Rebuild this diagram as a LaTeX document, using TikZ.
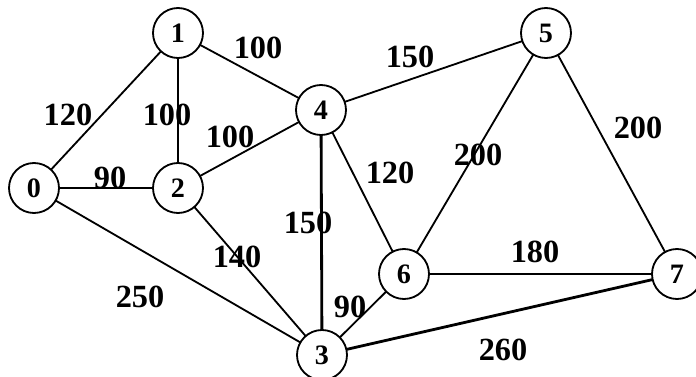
\documentclass[tikz,border=0pt]{standalone}
\usepackage{fontspec}
\setmainfont{Liberation Serif}
\usetikzlibrary{positioning}
\tikzstyle{vertice} = [circle, draw=black, line width=1.3pt, fill=white, minimum size=1.25cm, inner sep=0pt, font=\fontsize{20}{20}\selectfont\bfseries]
\tikzstyle{peso} = [inner sep=0pt, font=\fontsize{23}{23}\selectfont\bfseries]
\tikzstyle{arco} = [line width=1.3pt]
\tikzstyle{arcog} = [line width=2pt]

\begin{document}
\begin{tikzpicture}
	\useasboundingbox (0,0) rectangle (17.4,9.4);
	% archi
	\coordinate (c0) at (0.85,4.7);
	\coordinate (c1) at (4.45,8.575);
	\coordinate (c2) at (4.45,4.7);
	\coordinate (c3) at (8.05,0.525);
	\coordinate (c4) at (8.025,6.65);
	\coordinate (c5) at (13.65,8.575);
	\coordinate (c6) at (10.1,2.55);
	\coordinate (c7) at (16.925,2.55);
	\draw[arco] (c0) -- (c1);
	\draw[arco] (c0) -- (c2);
	\draw[arco] (c0) -- (c3);
	\draw[arcog] (c1) -- (c2);
	\draw[arco] (c1) -- (c4);
	\draw[arco] (c2) -- (c4);
	\draw[arco] (c2) -- (c3);
	\draw[arcog] (c4) -- (c3);
	\draw[arco] (c4) -- (c5);
	\draw[arco] (c4) -- (c6);
	\draw[arco] (c5) -- (c6);
	\draw[arco] (c5) -- (c7);
	\draw[arco] (c6) -- (c7);
	\draw[arco] (c6) -- (c3);
	\draw[arcog] (c3) -- (c7);
	% vertici
	\node (v0) at (c0) [vertice] {0};
	\node (v1) at (c1) [vertice] {1};
	\node (v2) at (c2) [vertice] {2};
	\node (v3) at (c3) [vertice] {3};
	\node (v4) at (c4) [vertice] {4};
	\node (v5) at (c5) [vertice] {5};
	\node (v6) at (c6) [vertice] {6};
	\node (v7) at (c7) [vertice] {7};
	% pesi
	\node (p01) at (1.7,6.525) [peso] {120};
	\node (p02) at (2.75,4.95) [peso] {90};
	\node (p03) at (3.5,1.975) [peso] {250};
	\node (p12) at (4.175,6.525) [peso] {100};
	\node (p14) at (6.45,8.2) [peso] {100};
	\node (p24) at (5.75,5.975) [peso] {100};
	\node (p23) at (5.925,2.975) [peso] {140};
	\node (p43) at (7.7,3.825) [peso] {150};
	\node (p45) at (10.25,7.975) [peso] {150};
	\node (p46) at (9.75,5.075) [peso] {120};
	\node (p56) at (11.95,5.525) [peso] {200};
	\node (p57) at (15.95,6.2) [peso] {200};
	\node (p67) at (13.375,3.1) [peso] {180};
	\node (p63) at (8.75,1.725) [peso] {90};
	\node (p37) at (12.575,0.65) [peso] {260};
\end{tikzpicture}
\end{document}
